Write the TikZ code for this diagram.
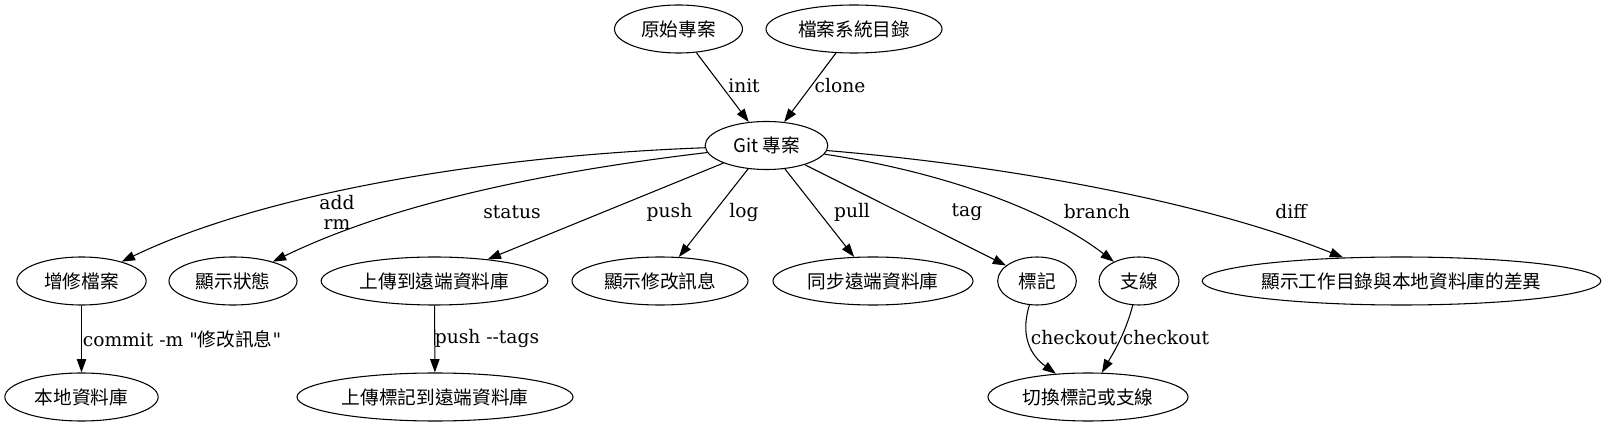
\documentclass[tikz,border=0pt]{standalone}
\usepackage{fontspec}
\setmainfont{DejaVu Serif}[Ligatures=TeXOff]
\newfontfamily\zh{Noto Sans CJK TC}
\usetikzlibrary{shapes.geometric,arrows.meta}
\begin{document}
\begin{tikzpicture}[x=0.75pt, y=-0.75pt,
            n/.style={ellipse,draw=black,line width=0.8pt,inner sep=0pt,minimum height=36pt,
            font=\fontsize{14}{15}\selectfont\zh},
            lab/.style={inner sep=0pt,align=center,font=\fontsize{14}{15}\selectfont},
            e/.style={-{Triangle[length=10pt,width=7pt]},line width=0.8pt}]
            \useasboundingbox (0,0) rectangle (1606,427);

            \node[n,minimum width=96pt] (orig) at (678.5,29) {原始專案};
            \node[n,minimum width=132pt] (fs) at (854,29) {檔案系統目錄};
            \node[n,minimum width=92pt] (git) at (766.5,145.5) {Git 專案};

            \node[n,minimum width=97pt] (add) at (81.5,281) {增修檔案};
            \node[n,minimum width=96pt] (stat) at (233,281) {顯示狀態};
            \node[n,minimum width=170pt] (push) at (434.5,281) {上傳到遠端資料庫};
            \node[n,minimum width=132pt] (log) at (660,281) {顯示修改訊息};
            \node[n,minimum width=150pt] (pull) at (873,281) {同步遠端資料庫};
            \node[n,minimum width=59pt] (tag) at (1037,281) {標記};
            \node[n,minimum width=60pt] (br) at (1139,281) {支線};
            \node[n,minimum width=299pt] (diff) at (1401.5,281) {顯示工作目錄與本地資料庫的差異};

            \node[n,minimum width=115pt] (local) at (81.5,397) {本地資料庫};
            \node[n,minimum width=207pt] (pushtag) at (435,397) {上傳標記到遠端資料庫};
            \node[n,minimum width=150pt] (sw) at (1088,397) {切換標記或支線};

            \draw[e] (orig) -- (git);
            \draw[e] (fs) -- (git);

            \draw[e] (git) .. controls (480,156) and (260,195) .. (add);
            \draw[e] (git) .. controls (560,170) and (400,200) .. (stat);
            \draw[e] (git) -- (push);
            \draw[e] (git) -- (log);
            \draw[e] (git) -- (pull);
            \draw[e] (git) -- (tag);
            \draw[e] (git) .. controls (930,170) and (1040,205) .. (br);
            \draw[e] (git) .. controls (1000,165) and (1200,200) .. (diff);

            \draw[e] (add) -- (local);
            \draw[e] (push) -- (pushtag);
            \draw[e] (tag) .. controls (1020,335) and (1030,355) .. (sw);
            \draw[e] (br) .. controls (1125,335) and (1112,355) .. (sw);

            \node[lab] (linit) at (744,86) {init};
            \node[lab] (lclone) at (840,86) {clone};
            \node[lab] (ladd) at (337,212) {add\\rm};
            \node[lab] (lstat) at (512,212) {status};
            \node[lab] (lpush) at (669.5,212) {push};
            \node[lab] (llog) at (744,212) {log};
            \node[lab] (lpull) at (852,212) {pull};
            \node[lab] (ltag) at (967,212) {tag};
            \node[lab] (lbr) at (1097,212) {branch};
            \node[lab] (ldiff) at (1291,212) {diff};
            \node[lab] (lcommit) at (182,339) {commit -m "{\zh 修改訊息}"};
            \node[lab] (lpushtag) at (487,338) {push --tags};
            \node[lab] (lco1) at (1074,338) {checkout};
            \node[lab] (lco2) at (1166,338) {checkout};
        \end{tikzpicture}
\end{document}
